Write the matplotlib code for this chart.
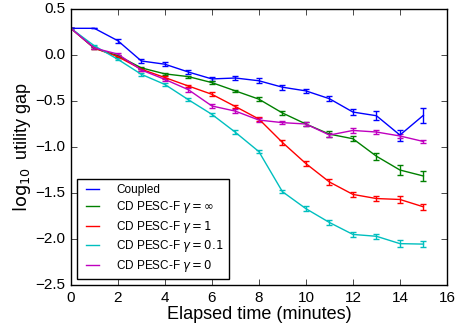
import numpy as np
import matplotlib
matplotlib.use('Agg')
import matplotlib.pyplot as plt

plt.style.use('classic')
plt.rcParams['font.family'] = ['Liberation Sans', 'DejaVu Sans']
plt.rcParams['mathtext.fontset'] = 'dejavusans'

t = np.arange(16)

coupled = [0.29, 0.29, 0.155, -0.065, -0.10, -0.185, -0.26, -0.25, -0.28, -0.35,
           -0.39, -0.475, -0.62, -0.66, -0.87, -0.655]
coupled_err = [0.0, 0.0, 0.02, 0.02, 0.02, 0.02, 0.02, 0.02, 0.025, 0.025,
               0.02, 0.025, 0.03, 0.05, 0.06, 0.08]

g_inf = [0.29, 0.073, -0.007, -0.14, -0.205, -0.235, -0.30, -0.39, -0.48, -0.63,
         -0.75, -0.86, -0.91, -1.10, -1.25, -1.315]
g_inf_err = [0.0, 0.01, 0.01, 0.01, 0.01, 0.01, 0.015, 0.015, 0.02, 0.02,
             0.02, 0.03, 0.03, 0.04, 0.05, 0.05]

g_1 = [0.29, 0.075, -0.018, -0.155, -0.245, -0.337, -0.427, -0.56, -0.696, -0.95,
       -1.18, -1.38, -1.515, -1.56, -1.57, -1.65]
g_1_err = [0.0, 0.01, 0.01, 0.015, 0.015, 0.015, 0.02, 0.02, 0.02, 0.03,
           0.03, 0.03, 0.03, 0.03, 0.035, 0.035]

g_01 = [0.29, 0.10, -0.047, -0.21, -0.32, -0.486, -0.645, -0.84, -1.05, -1.485,
        -1.67, -1.82, -1.95, -1.97, -2.05, -2.055]
g_01_err = [0.0, 0.01, 0.01, 0.015, 0.015, 0.015, 0.015, 0.02, 0.02, 0.02,
            0.025, 0.025, 0.025, 0.03, 0.035, 0.035]

g_0 = [0.29, 0.075, 0.01, -0.163, -0.265, -0.377, -0.554, -0.61, -0.707, -0.735,
       -0.75, -0.87, -0.82, -0.837, -0.88, -0.94]
g_0_err = [0.0, 0.01, 0.015, 0.015, 0.02, 0.02, 0.02, 0.02, 0.02, 0.02,
           0.02, 0.025, 0.025, 0.025, 0.025, 0.02]

series = [
    (coupled, coupled_err, 'b', 'Coupled'),
    (g_inf, g_inf_err, 'g', r'CD PESC-F $\gamma = \infty$'),
    (g_1, g_1_err, 'r', r'CD PESC-F $\gamma = 1$'),
    (g_01, g_01_err, 'c', r'CD PESC-F $\gamma = 0.1$'),
    (g_0, g_0_err, 'm', r'CD PESC-F $\gamma = 0$'),
]

fig = plt.figure(figsize=(4.57, 3.33), dpi=100, facecolor='white')
ax = fig.add_axes([0.155, 0.144, 0.823, 0.829])

for y, e, c, lab in series:
    ax.errorbar(t, y, yerr=e, color=c, lw=1, elinewidth=1, capsize=2,
                capthick=1, label=lab)

ax.set_xlim(0, 16)
ax.set_ylim(-2.5, 0.5)
ax.set_xticks(np.arange(0, 17, 2))
ax.set_yticks(np.arange(-2.5, 0.51, 0.5))
ax.tick_params(labelsize=11)
ax.set_xlabel('Elapsed time (minutes)', fontsize=13, labelpad=1)
ax.set_ylabel(r'$\log_{10}$ utility gap', fontsize=13, labelpad=2)

handles, labels = ax.get_legend_handles_labels()
handles = [h[0] for h in handles]
leg = ax.legend(handles, labels, loc='lower left', fontsize=8.5,
                handlelength=1.7, handletextpad=1.2, borderaxespad=0.55,
                labelspacing=0.3, borderpad=0.4)

fig.savefig('out.png', dpi=100, facecolor='white')
